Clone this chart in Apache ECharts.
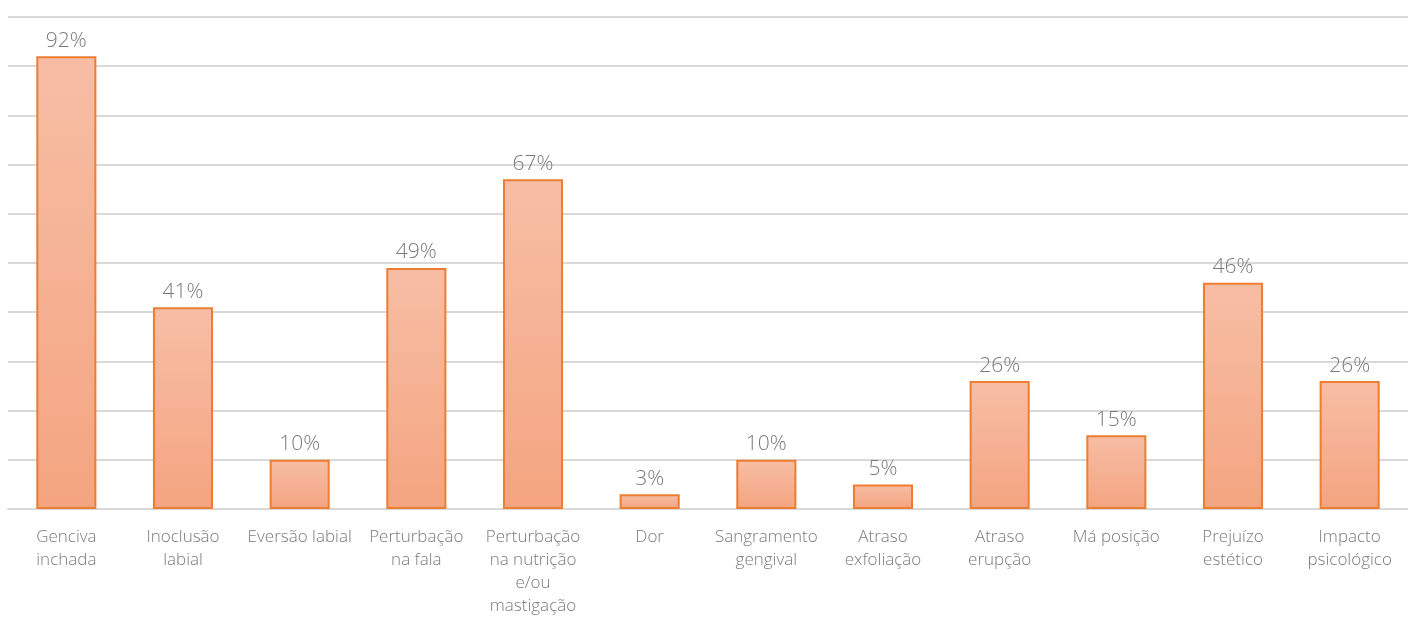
<!DOCTYPE html>
<html>
<head>
<meta charset="utf-8">
<script src="https://cdn.jsdelivr.net/npm/echarts@6/dist/echarts.min.js"></script>
<style>
  html, body { margin: 0; padding: 0; background: #fff; }
  #chart { width: 1408px; height: 622px; }
</style>
</head>
<body>
<div id="chart"></div>
<script>
// categorias (quebras de linha como no original)
var categorias = [
  'Genciva\ninchada',
  'Inoclusão\nlabial',
  'Eversão labial',
  'Perturbação\nna fala',
  'Perturbação\nna nutrição\ne/ou\nmastigação',
  'Dor',
  'Sangramento\ngengival',
  'Atraso\nexfoliação',
  'Atraso\nerupção',
  'Má posição',
  'Prejuízo\nestético',
  'Impacto\npsicológico'
];
var percentagens = [92, 41, 10, 49, 67, 3, 10, 5, 26, 15, 46, 26];

var chart = echarts.init(document.getElementById('chart'));

chart.setOption({
  animation: false,
  grid: { left: 8, right: 0, top: 17, bottom: 113, containLabel: false },
  xAxis: {
    type: 'category',
    data: categorias,
    axisTick: { show: false },
    axisLine: { lineStyle: { color: '#d9d9d9', width: 2 } },
    axisLabel: {
      interval: 0,
      margin: 17,
      color: '#7a7a7a',
      fontFamily: 'Open Sans',
      fontWeight: 300,
      fontSize: 17,
      lineHeight: 23
    }
  },
  yAxis: {
    type: 'value',
    min: 0,
    max: 100,
    interval: 10,
    axisLabel: { show: false },
    axisLine: { show: false },
    axisTick: { show: false },
    splitLine: { lineStyle: { color: '#d9d9d9', width: 2 } }
  },
  series: [
    {
      type: 'bar',
      data: percentagens,
      barWidth: '51.5%',
      itemStyle: {
        color: new echarts.graphic.LinearGradient(0, 0, 0, 1, [
          { offset: 0, color: '#f7bea5' },
          { offset: 1, color: '#f4a480' }
        ]),
        borderColor: '#ed7d31',
        borderWidth: 2
      },
      label: {
        show: true,
        position: 'top',
        distance: 5,
        formatter: '{c}%',
        color: '#7a7a7a',
        fontFamily: 'Open Sans',
        fontWeight: 300,
        fontSize: 21
      }
    }
  ]
});
</script>
</body>
</html>
